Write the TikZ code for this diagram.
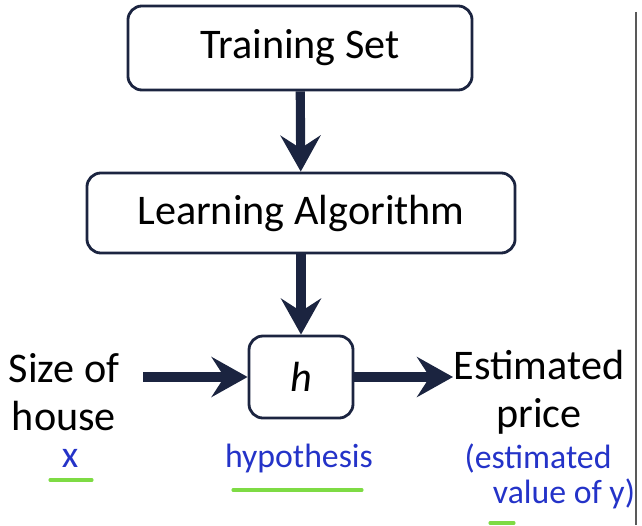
\documentclass[tikz,border=0pt]{standalone}
\usepackage{fontspec}
\setmainfont{Carlito}
\usetikzlibrary{arrows.meta,positioning}
\definecolor{navy}{HTML}{1B2440}
\definecolor{pen}{HTML}{2433C8}
\definecolor{marker}{HTML}{7EDB44}

\begin{document}
\begin{tikzpicture}[x=.025cm,y=-.025cm,
	box/.style={draw=navy,line width=2pt,rounded corners=.35cm,fill=white,inner sep=0pt,font=\fontsize{30}{33}\selectfont},
	flow/.style={navy,line width=6.5pt,-{Stealth[length=.9cm,width=1cm,inset=.32cm]}},
	word/.style={align=center,font=\fontsize{30}{34}\selectfont},
	hand/.style={pen,align=left,inner sep=1pt,font=\fontsize{24}{28}\selectfont},
	underline/.style={marker,line width=2.2pt,line cap=round}]
	\useasboundingbox (0,0) rectangle (642,525);
	\draw[black!65,line width=1.4pt] (636,12) -- (636,525);
	\node[box,minimum width=8.6cm,minimum height=2.1cm] (train) at (300,48) {Training Set};
	\node[box,minimum width=10.7cm,minimum height=2cm] (learn) at (301,213) {Learning Algorithm};
	\node[box,minimum width=2.6cm,minimum height=2.05cm] (h) at (301,377) {\itshape h};
	\node[word] (size) at (64,392) {Size of\\house};
	\node[word] (price) at (539,392) {Estimated\\price};
	\path
	(143,377) coordinate (in)
	(453,377) coordinate (out)
	;
	\draw[flow] (train) -- (learn);
	\draw[flow] (learn) -- (h);
	\draw[flow] (in) -- (h);
	\draw[flow] (h) -- (out);
	% notes written on the slide
	\node[hand,font=\fontsize{27}{27}\selectfont] (x) at (70,458) {x};
	\node[hand] (hyp) at (299,458) {hypothesis};
	\node[hand] (est) at (538,458) {(estimated};
	\node[hand] (val) at (564,494) {value of y)};
	\foreach \a/\b/\y in {50/92/480,233/362/490,490/514/523} \draw[underline] (\a,\y) -- (\b,\y);
\end{tikzpicture}
\end{document}
